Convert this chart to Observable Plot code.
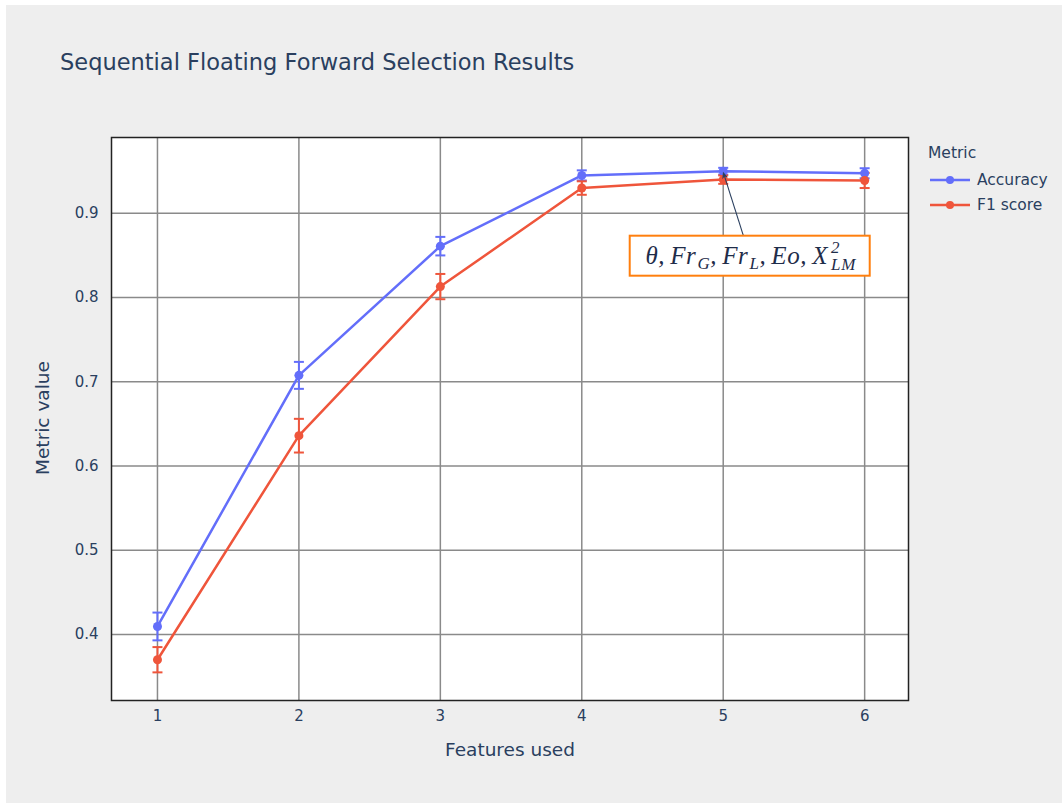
<!DOCTYPE html>
<html>
<head>
<meta charset="utf-8">
<script src="https://cdn.jsdelivr.net/npm/d3@7"></script>
<script src="https://cdn.jsdelivr.net/npm/@observablehq/plot@0.6"></script>
<style>
  html, body { margin: 0; padding: 0; background: #ffffff; }
  #wrap { position: relative; width: 1062px; height: 803px; overflow: hidden; font-family: "DejaVu Sans", Verdana, sans-serif; color: #2a3f5f; }
  #bg { position: absolute; left: 6px; top: 5px; right: 0; bottom: 0; background: #eeeeee; }
  #chart { position: absolute; left: 0; top: 0; }
  .abs { position: absolute; white-space: nowrap; }
  #title { left: 60px; top: 49px; font-size: 22.5px; }
  #ytitle { left: 42px; top: 418px; font-size: 18.5px; transform: translate(-50%, -50%) rotate(-90deg); }
  #xtitle { left: 510px; top: 749px; font-size: 18.5px; transform: translate(-50%, -50%); }
  #legend { left: 928px; top: 143px; font-size: 15.5px; }
  .lg-item { display: flex; align-items: center; height: 25px; }
  .lg-item svg { margin-left: 2px; margin-right: 7px; }
</style>
</head>
<body>
<div id="wrap">
  <div id="bg"></div>
  <div id="chart"></div>
  <div class="abs" id="title">Sequential Floating Forward Selection Results</div>
  <div class="abs" id="ytitle">Metric value</div>
  <div class="abs" id="xtitle">Features used</div>
  <div class="abs" id="legend"></div>
</div>
<script>
// ---- data ----
const features = [1, 2, 3, 4, 5, 6];
const accuracy = [0.4095, 0.7076, 0.861, 0.945, 0.950, 0.9475];
const accuracyErr = [0.0165, 0.016, 0.011, 0.006, 0.004, 0.006];
const f1 = [0.370, 0.636, 0.813, 0.930, 0.940, 0.939];
const f1Err = [0.015, 0.020, 0.015, 0.008, 0.005, 0.009];
const seriesNames = ["Accuracy", "F1 score"];
const seriesColors = ["#636efa", "#EF553B"];
const yTicks = [0.4, 0.5, 0.6, 0.7, 0.8, 0.9];
const xTicks = [1, 2, 3, 4, 5, 6];
const legendTitle = "Metric";
const annotationFeature = 5; // points at Accuracy value with 5 features

// table built from arrays
const rows = [];
features.forEach((f, i) => {
  rows.push({feature: f, value: accuracy[i], err: accuracyErr[i], metric: seriesNames[0]});
});
features.forEach((f, i) => {
  rows.push({feature: f, value: f1[i], err: f1Err[i], metric: seriesNames[1]});
});

const capSymbol = {
  draw(ctx, size) { const w = 5; ctx.moveTo(-w, 0); ctx.lineTo(w, 0); }
};

const colorOf = m => seriesColors[seriesNames.indexOf(m)];

// annotation mark: box + arrow using the scales
function annotationMark(index, scales) {
  const ai = features.indexOf(annotationFeature);
  const px = scales.x(annotationFeature);
  const py = scales.y(accuracy[ai]);
  const cx = px + 27, cy = py + 85; // plotly-style ax/ay offsets
  const g = d3.create("svg:g");
  const dx = px - cx, dy = py - cy, len = Math.hypot(dx, dy);
  const ux = dx / len, uy = dy / len;
  const tipX = px - ux * 1, tipY = py - uy * 1;
  g.append("line")
    .attr("x1", cx).attr("y1", cy).attr("x2", tipX - ux * 4).attr("y2", tipY - uy * 4)
    .attr("stroke", "#2a3f5f").attr("stroke-width", 1.1);
  const hl = 7, hw = 3;
  const bx = tipX - ux * hl, by = tipY - uy * hl;
  g.append("path")
    .attr("d", `M${tipX},${tipY}L${bx - uy * hw},${by + ux * hw}L${bx + ux * 2},${by + uy * 2}L${bx + uy * hw},${by - ux * hw}Z`)
    .attr("fill", "#2a3f5f");
  const bw = 240, bh = 40;
  g.append("rect")
    .attr("x", cx - bw / 2).attr("y", cy - bh / 2).attr("width", bw).attr("height", bh)
    .attr("fill", "#ffffff").attr("stroke", "#ff7f0e").attr("stroke-width", 2);
  const t = g.append("text")
    .attr("x", cx + 1).attr("y", cy + 8)
    .attr("text-anchor", "middle")
    .attr("font-family", "'Liberation Serif', 'DejaVu Serif', serif")
    .attr("font-style", "italic")
    .attr("font-size", 25)
    .attr("letter-spacing", 0.6)
    .attr("fill", "#1f2d4a");
  t.append("tspan").text("θ,");
  t.append("tspan").attr("dx", 5).text("Fr");
  t.append("tspan").attr("dx", 1).attr("dy", 5).attr("font-size", 17).text("G");
  t.append("tspan").attr("dy", -5).text(",");
  t.append("tspan").attr("dx", 5).text("Fr");
  t.append("tspan").attr("dx", 1).attr("dy", 5).attr("font-size", 17).text("L");
  t.append("tspan").attr("dy", -5).text(",");
  t.append("tspan").attr("dx", 5).text("Eo,");
  t.append("tspan").attr("dx", 5).text("X");
  t.append("tspan").attr("dx", 3).attr("dy", -11).attr("font-size", 17).text("2");
  t.append("tspan").attr("dx", -9).attr("dy", 17).attr("font-size", 17).text("LM");
  return g.node();
}

const plot = Plot.plot({
  width: 1062,
  height: 803,
  marginLeft: 111,
  marginRight: 154,
  marginTop: 137,
  marginBottom: 103,
  style: {background: "transparent", fontFamily: "'DejaVu Sans', Verdana, sans-serif", fontSize: "15px", color: "#2a3f5f"},
  x: {domain: [0.675, 6.31]},
  y: {domain: [0.3216, 0.990]},
  marks: [
    Plot.frame({fill: "#ffffff"}),
    Plot.gridX(xTicks, {stroke: "#8a8a8a", strokeOpacity: 1, strokeWidth: 1.5}),
    Plot.gridY(yTicks, {stroke: "#8a8a8a", strokeOpacity: 1, strokeWidth: 1.5}),
    Plot.axisX(xTicks, {tickSize: 0, tickPadding: 10, label: null, fontSize: 15, fill: "#2a3f5f", tickFormat: d3.format("d")}),
    Plot.axisY(yTicks, {tickSize: 0, tickPadding: 13, label: null, fontSize: 15, fill: "#2a3f5f", tickFormat: d3.format(".1f")}),
    Plot.ruleX(rows, {x: "feature", y1: d => d.value - d.err, y2: d => d.value + d.err, stroke: d => colorOf(d.metric), strokeWidth: 2}),
    Plot.dot(rows, {x: "feature", y: d => d.value - d.err, symbol: capSymbol, stroke: d => colorOf(d.metric), strokeWidth: 2, fill: "none"}),
    Plot.dot(rows, {x: "feature", y: d => d.value + d.err, symbol: capSymbol, stroke: d => colorOf(d.metric), strokeWidth: 2, fill: "none"}),
    Plot.line(rows, {x: "feature", y: "value", z: "metric", stroke: d => colorOf(d.metric), strokeWidth: 2.5}),
    Plot.dot(rows, {x: "feature", y: "value", fill: d => colorOf(d.metric), r: 4.5}),
    Plot.frame({stroke: "#222222", strokeWidth: 1.5}),
    annotationMark
  ]
});
document.getElementById("chart").appendChild(plot);

// legend
const legend = document.getElementById("legend");
const lt = document.createElement("div");
lt.textContent = legendTitle;
lt.style.height = "24px";
lt.style.lineHeight = "20px";
legend.appendChild(lt);
seriesNames.forEach((name, i) => {
  const item = document.createElement("div");
  item.className = "lg-item";
  item.innerHTML = `<svg width="40" height="10"><line x1="0" y1="5" x2="40" y2="5" stroke="${seriesColors[i]}" stroke-width="2.5"/><circle cx="20" cy="5" r="4" fill="${seriesColors[i]}"/></svg><span>${name}</span>`;
  legend.appendChild(item);
});
</script>
</body>
</html>
